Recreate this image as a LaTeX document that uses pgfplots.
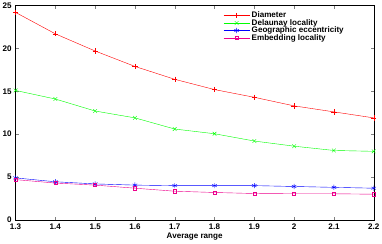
\documentclass[border=0pt]{standalone}
\usepackage{fontspec}
\setmainfont{Liberation Sans}
\usepackage{pgfplots}
\pgfplotsset{compat=1.18}
\begin{document}
\fontsize{8}{9}\selectfont\bfseries
\begin{tikzpicture}
\begin{axis}[
  scale only axis,
  width=355pt, height=212.5pt,
  xmin=1.3, xmax=2.2, ymin=0, ymax=25,
  xtick={1.3,1.4,...,2.2},
  xticklabels={1.3,1.4,1.5,1.6,1.7,1.8,1.9,2,2.1,2.2},
  ytick={0,5,10,15,20,25},
  tick align=inside,
  tick pos=both,
  major tick length=3pt,
  /pgf/number format/assume math mode=true,
  tick label style={font=\fontsize{8}{9}\selectfont\bfseries},
  yticklabel style={xshift=-1pt},
  xticklabel style={yshift=-1pt},
  xlabel={Average range},
  xlabel style={font=\fontsize{8}{9}\selectfont\bfseries, yshift=2pt},
  every axis plot/.append style={line width=0.4pt},
  mark size=2.6pt,
  legend style={draw=none, fill=none, at={(rel axis cs:0.58,0.98)}, anchor=north west,
    font=\fontsize{8}{9}\selectfont\bfseries, row sep=-3.6pt, inner sep=0pt},
  legend cell align=left,
  legend image code/.code={\draw[#1] (0cm,0cm) -- (0.9cm,0cm); \draw[#1, only marks] plot coordinates {(0.45cm,0cm)};},
]
\addplot[color=red, mark=+, mark options={draw=red}] coordinates {
(1.3,24.2)(1.4,21.7)(1.5,19.7)(1.6,17.9)(1.7,16.4)(1.8,15.2)(1.9,14.3)(2.0,13.3)(2.1,12.6)(2.2,11.9)};
\addlegendentry{Diameter}
\addplot[color=green, mark=x, mark options={draw=green}] coordinates {
(1.3,15.1)(1.4,14.1)(1.5,12.7)(1.6,11.9)(1.7,10.6)(1.8,10.05)(1.9,9.2)(2.0,8.6)(2.1,8.1)(2.2,8.0)};
\addlegendentry{Delaunay locality}
\addplot[color=blue, mark=asterisk, mark options={draw=blue}] coordinates {
(1.3,4.9)(1.4,4.45)(1.5,4.2)(1.6,4.06)(1.7,4.0)(1.8,4.0)(1.9,4.0)(2.0,3.9)(2.1,3.8)(2.2,3.7)};
\addlegendentry{Geographic eccentricity}
\addplot[color=magenta, mark=square, mark size=1.5pt, mark options={draw=magenta}] coordinates {
(1.3,4.7)(1.4,4.3)(1.5,4.06)(1.6,3.7)(1.7,3.35)(1.8,3.2)(1.9,3.08)(2.0,3.05)(2.1,3.05)(2.2,3.0)};
\addlegendentry{Embedding locality}
\end{axis}
\end{tikzpicture}
\end{document}
